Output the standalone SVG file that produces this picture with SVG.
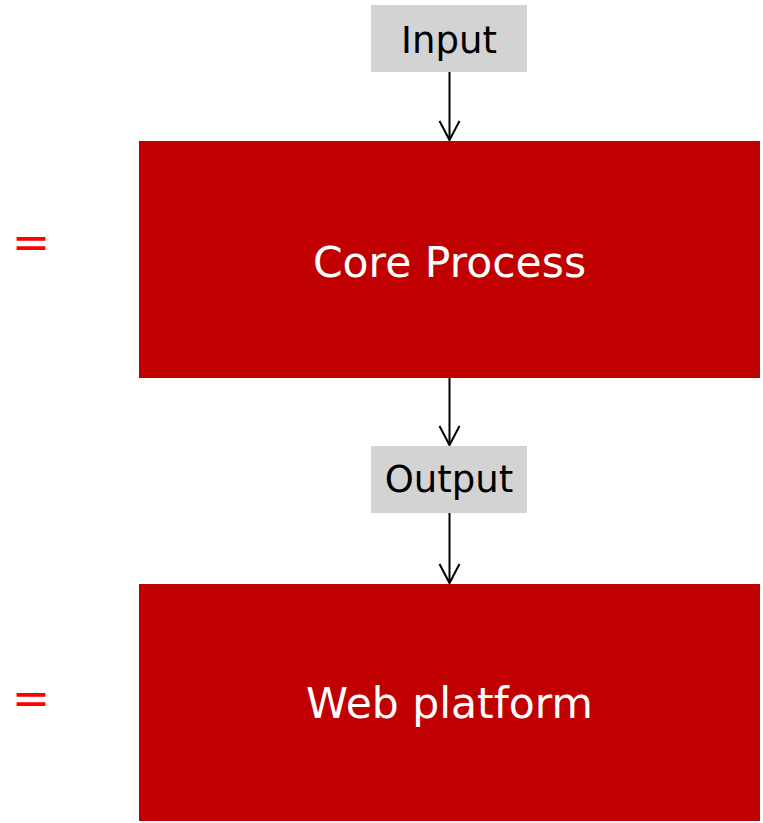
<svg xmlns="http://www.w3.org/2000/svg" width="763" height="823" viewBox="0 0 763 823">
<style>
.big{fill:#C00000}
.small{fill:#D3D3D3}
.t{font-family:"DejaVu Sans",Verdana,sans-serif;text-anchor:middle}
.wt{fill:#FFFFFF;font-size:42.5px}
.bt{fill:#000000;font-size:37px}
.eq{fill:#FF0000;font-size:46px}
.conn{stroke:#000000;stroke-width:2;fill:none}
</style>
<defs>
<marker id="arr" markerUnits="userSpaceOnUse" markerWidth="24" markerHeight="26" refX="20" refY="11" orient="auto" viewBox="0 0 24 22">
<path d="M1,1 L20,11 L1,21" stroke="#000" stroke-width="2" fill="none"/>
</marker>
</defs>
<rect width="763" height="823" fill="#FFFFFF"/>
<g id="connectors">
<line class="conn" x1="449.5" y1="72" x2="449.5" y2="140" marker-end="url(#arr)"/>
<line class="conn" x1="449.5" y1="378" x2="449.5" y2="445" marker-end="url(#arr)"/>
<line class="conn" x1="449.5" y1="513" x2="449.5" y2="583" marker-end="url(#arr)"/>
</g>
<g id="input">
<rect class="small" x="371" y="5" width="156" height="67"/>
<text class="t bt" x="449" y="53">Input</text>
</g>
<g id="core">
<rect class="big" x="139" y="141" width="621" height="237"/>
<text class="t wt" x="449.5" y="276.5">Core Process</text>
</g>
<g id="output">
<rect class="small" x="371" y="446" width="156" height="67"/>
<text class="t bt" x="449" y="492">Output</text>
</g>
<g id="web">
<rect class="big" x="139" y="584" width="621" height="237"/>
<text class="t wt" x="449.5" y="718">Web platform</text>
</g>
<g id="eq1"><text class="t eq" x="31" y="258">=</text></g>
<g id="eq2"><text class="t eq" x="31" y="714">=</text></g>
</svg>
